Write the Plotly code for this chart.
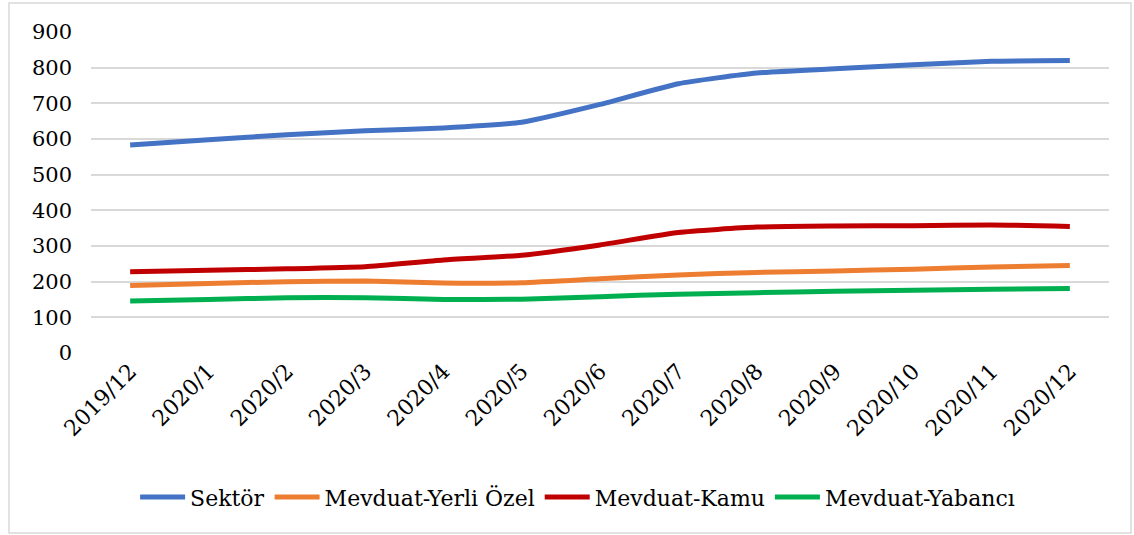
import plotly.graph_objects as go

categories = ["2019/12", "2020/1", "2020/2", "2020/3", "2020/4", "2020/5", "2020/6",
              "2020/7", "2020/8", "2020/9", "2020/10", "2020/11", "2020/12"]
sektor = [583, 598, 612, 623, 631, 647, 697, 755, 785, 797, 808, 818, 820]
yerli_ozel = [189, 195, 200, 202, 196, 197, 208, 219, 226, 230, 235, 241, 245]
kamu = [228, 232, 236, 242, 261, 274, 303, 338, 353, 356, 357, 359, 355]
yabanci = [146, 150, 155, 155, 150, 151, 158, 165, 169, 173, 176, 179, 181]

series_names = ["Sektör", "Mevduat-Yerli Özel", "Mevduat-Kamu", "Mevduat-Yabancı"]
series_values = [sektor, yerli_ozel, kamu, yabanci]
colors = ["#4472C4", "#ED7D31", "#C00000", "#00B050"]

FONT = "DejaVu Serif"

fig = go.Figure()
for name, vals, col in zip(series_names, series_values, colors):
    fig.add_trace(go.Scatter(
        x=categories, y=vals, name=name, mode="lines",
        line=dict(color=col, width=5, shape="spline", smoothing=0.5),
    ))

fig.update_layout(
    width=1134, height=535,
    margin=dict(l=91, r=25, t=32, b=182),
    paper_bgcolor="white", plot_bgcolor="white",
    font=dict(family=FONT, size=20, color="#000000"),
    showlegend=True,
    legend=dict(orientation="h", x=0.478, xanchor="center", y=-0.449, yanchor="middle",
                font=dict(family=FONT, size=22, color="#000000"),
                itemwidth=45, traceorder="normal"),
    xaxis=dict(type="category", range=[-0.5, 12.5], showgrid=False, zeroline=False,
               showline=False, tickangle=-45, tickfont=dict(family=FONT, size=22)),
    yaxis=dict(range=[0, 900], dtick=100, tick0=0, showgrid=True, gridcolor="#D9D9D9",
               gridwidth=1.5, zeroline=False, showline=False, ticklabelstandoff=18,
               tickfont=dict(family=FONT, size=21)),
)

fig.add_shape(type="rect", xref="paper", yref="paper",
              x0=(9 - 91) / 1018, x1=(1131 - 91) / 1018,
              y0=(353 - 533) / 321, y1=(353 - 3) / 321,
              line=dict(color="#D9D9D9", width=1.5), fillcolor="rgba(0,0,0,0)", layer="below")

fig.write_html("out.html", config={"displayModeBar": False},
               post_script="document.body.style.margin='0';document.body.style.overflow='hidden';")
